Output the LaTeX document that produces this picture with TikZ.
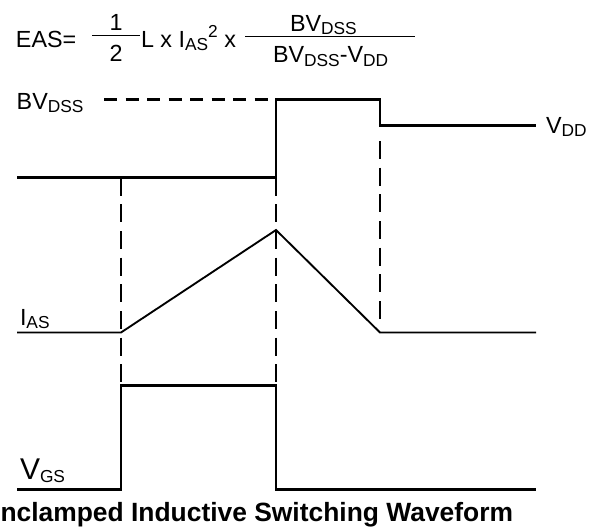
\documentclass[tikz,border=0pt]{standalone}
\usepackage{fontspec}
\setmainfont{Liberation Sans}
\newcommand{\lblfont}{\fontsize{17.5}{20}\selectfont}
\newcommand{\sbs}[1]{\raisebox{-2.5pt}{\fontsize{13}{14}\selectfont #1}}
\newcommand{\sps}[1]{\raisebox{7.5pt}{\fontsize{13}{14}\selectfont #1}}
\begin{document}
\begin{tikzpicture}[x=0.75pt,y=-0.75pt,
  txt/.style={inner sep=0pt, outer sep=0pt, font=\lblfont},
  wave/.style={line width=2.1pt, line join=miter},
  thinwave/.style={line width=1.4pt, line join=miter},
  guide/.style={line width=2pt, dash pattern=on 13.5pt off 6.5pt},
  hguide/.style={line width=2.1pt, dash pattern=on 9.75pt off 6.4pt},
  fbar/.style={line width=1.1pt}]
\useasboundingbox (0,0) rectangle (602,529);

% ---------- formula ----------
\node[txt, anchor=base west] (eas) at (16,47.3) {EAS=};
\node[txt, anchor=base] (one) at (116,30.7) {1};
\node[txt, anchor=base] (two) at (116,61) {2};
\coordinate (fb1l) at (92,35.7);
\coordinate (fb1r) at (140,35.7);
\draw[fbar] (fb1l) -- (fb1r);
\node[txt, anchor=base west] (mid) at (141,47.3) {L x I\sbs{AS}\sps{2} x};
\node[txt, anchor=base west] (num) at (290,31) {BV\sbs{DSS}};
\node[txt, anchor=base west] (den) at (273,62.7) {BV\sbs{DSS}-V\sbs{DD}};
\coordinate (fb2l) at (245,36.7);
\coordinate (fb2r) at (415,36.7);
\draw[fbar] (fb2l) -- (fb2r);

% ---------- V_DS waveform ----------
\coordinate (a0) at (17,177.7);
\coordinate (a1) at (276,177.7);
\coordinate (a2) at (276,99.3);
\coordinate (a3) at (380,99.3);
\coordinate (a4) at (380,125.7);
\coordinate (a5) at (536,125.7);
\coordinate (bv0) at (104,99.3);
\draw[hguide] (bv0) -- (a2);
\draw[wave] (a0) -- (a1) -- (a2) -- (a3) -- (a4) -- (a5);
\node[txt, anchor=base west] (bvl) at (16.7,109.3) {BV\sbs{DSS}};
\node[txt, anchor=base west] (vddl) at (546,133) {V\sbs{DD}};

% ---------- I_AS waveform ----------
\coordinate (i0) at (17,332.5);
\coordinate (i1) at (121,332.5);
\coordinate (i2) at (276,230);
\coordinate (i3) at (380,332.5);
\coordinate (i4) at (536,332.5);
\draw[thinwave] (i0) -- (i1) -- (i2) -- (i3) -- (i4);
\node[txt, anchor=base west] (ial) at (20,325) {I\sbs{AS}};

% ---------- V_GS waveform ----------
\coordinate (g0) at (17,489.3);
\coordinate (g1) at (121,489.3);
\coordinate (g2) at (121,385.5);
\coordinate (g3) at (276,385.5);
\coordinate (g4) at (276,489.3);
\coordinate (g5) at (536,489.3);
\draw[wave] (g0) -- (g1) -- (g2) -- (g3) -- (g4) -- (g5);
\node[txt, anchor=base west, font=\fontsize{22.5}{24}\selectfont] (vgsl) at (20,479.3) {V\sbs{GS}};

% ---------- dashed guides ----------
\coordinate (d1e) at (121,383);
\coordinate (d2e) at (276,383);
\coordinate (d3s) at (380,141);
\coordinate (d3e) at (380,325);
\draw[guide] (a0 -| i1) -- (d1e);
\draw[guide] (a1) -- (d2e);
\draw[guide] (d3s) -- (d3e);

% ---------- caption ----------
\node[txt, anchor=base east, font=\bfseries\fontsize{19.8}{22}\selectfont] (cap) at (513,521) {Unclamped Inductive Switching Waveform};
\end{tikzpicture}
\end{document}
